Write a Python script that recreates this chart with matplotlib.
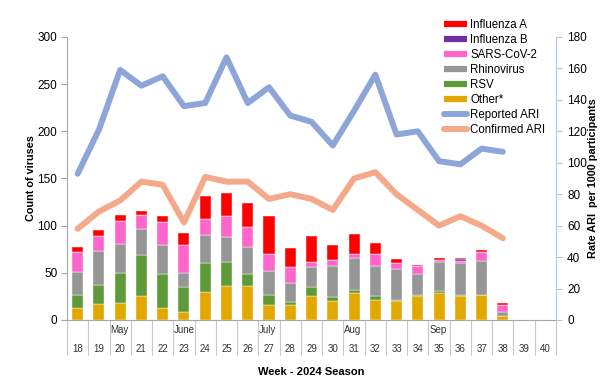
import matplotlib
matplotlib.use("Agg")
import matplotlib.pyplot as plt
import matplotlib.transforms as mtransforms
from matplotlib.lines import Line2D
import numpy as np

plt.rcParams['font.family'] = ['Liberation Sans', 'DejaVu Sans']

weeks = [18, 19, 20, 21, 22, 23, 24, 25, 26, 27, 28, 29, 30, 31, 32, 33, 34, 35, 36, 37, 38, 39, 40]
month_labels = {20: "May", 23: "June", 27: "July", 31: "Aug", 35: "Sep"}

other = [13, 17, 18, 25, 13, 9, 30, 36, 36, 16, 16, 25, 20, 29, 21, 20, 25, 29, 25, 26, 4, 0, 0]
rsv = [14, 20, 32, 44, 36, 26, 30, 25, 13, 11, 3, 10, 4, 3, 4, 1, 2, 2, 1, 0, 0, 0, 0]
rhino = [24, 36, 31, 27, 30, 15, 30, 27, 28, 25, 20, 21, 33, 34, 32, 33, 22, 30, 34, 37, 5, 0, 0]
sars = [21, 16, 24, 15, 25, 30, 17, 22, 22, 18, 17, 5, 7, 4, 13, 6, 8, 3, 3, 9, 7, 0, 0]
flub = [0, 0, 0, 0, 0, 0, 0, 0, 0, 0, 0, 0, 0, 0, 0, 0, 0, 0, 2, 0, 0, 0, 0]
flua = [5, 6, 6, 5, 6, 12, 24, 25, 25, 40, 20, 28, 15, 21, 12, 5, 1, 2, 1, 2, 2, 0, 0]

reported_ari = [93, 121, 159, 149, 155, 136, 138, 167, 138, 148, 130, 126, 111, 133, 156, 118, 120, 101, 99, 109, 107]
confirmed_ari = [58, 69, 76, 88, 86, 62, 91, 88, 88, 77, 80, 77, 70, 90, 94, 80, 70, 60, 66, 60, 52]

c_flua = "#FF0000"
c_flub = "#7030A0"
c_sars = "#FF66CC"
c_rhino = "#969696"
c_rsv = "#5E9A3A"
c_other = "#E2A800"
c_rep = "#8EA5DA"
c_conf = "#F3A98A"

fig = plt.figure(figsize=(6, 3.83), dpi=100)
pos = [0.1117, 0.1645, 0.815, 0.739]
ax = fig.add_axes(pos)
x = np.arange(len(weeks))
w = 0.52

series = [(other, c_other), (rsv, c_rsv), (rhino, c_rhino), (sars, c_sars), (flub, c_flub), (flua, c_flua)]
bottom = np.zeros(len(weeks))
for vals, col in series:
    v = np.array(vals, dtype=float)
    ax.bar(x, v, w, bottom=bottom, color=col, edgecolor='white', linewidth=0.3, zorder=2)
    bottom += v

ax.set_xlim(-0.5, len(weeks) - 0.5)
ax.set_ylim(0, 300)
ax.set_yticks(np.arange(0, 301, 50))
ax.tick_params(axis='y', labelsize=8.5, length=4, color='#A6A6A6', pad=3)
for s in ['top', 'right']:
    ax.spines[s].set_visible(False)
ax.spines['left'].set_color('#A6A6A6')
ax.spines['bottom'].set_color('#A6A6A6')

# category separators extending below axis
ax.set_xticks(np.arange(-0.5, len(weeks), 1))
ax.set_xticklabels([])
ax.tick_params(axis='x', length=25, color='#C8C8C8', width=0.8)

trans = mtransforms.blended_transform_factory(ax.transData, ax.transAxes)
for i, wk in enumerate(weeks):
    ax.text(i, -0.103, str(wk), transform=trans, ha='center', va='center', fontsize=7, color='#333333')
    if wk in month_labels:
        ax.text(i - 0.47, -0.036, month_labels[wk], transform=trans, ha='left', va='center', fontsize=7, color='#333333')

ax.set_ylabel("Count of viruses", fontsize=7.8, fontweight='bold', labelpad=1)
ax.text(0.5, -0.184, "Week - 2024 Season", transform=ax.transAxes, ha='center', va='center', fontsize=8, fontweight='bold')

ax2 = ax.twinx()
xl = np.arange(len(reported_ari))
ax2.plot(xl, reported_ari, color=c_rep, lw=4.3, solid_joinstyle='round', solid_capstyle='round', zorder=3)
ax2.plot(xl, confirmed_ari, color=c_conf, lw=4.3, solid_joinstyle='round', solid_capstyle='round', zorder=3)
ax2.set_ylim(0, 180)
ax2.set_yticks(np.arange(0, 181, 20))
ax2.tick_params(axis='y', labelsize=8.5, length=4, color='#B4C7E7', pad=4)
for s in ['top', 'left', 'bottom']:
    ax2.spines[s].set_visible(False)
ax2.spines['right'].set_color('#B4C7E7')
ax2.set_ylabel("Rate ARI  per 1000 participants", fontsize=7.8, fontweight='bold', labelpad=1)

handles = [
    Line2D([], [], color=c_flua, lw=4.5, solid_capstyle='butt'),
    Line2D([], [], color=c_flub, lw=4.5, solid_capstyle='butt'),
    Line2D([], [], color=c_sars, lw=4.5, solid_capstyle='butt'),
    Line2D([], [], color=c_rhino, lw=4.5, solid_capstyle='butt'),
    Line2D([], [], color=c_rsv, lw=4.5, solid_capstyle='butt'),
    Line2D([], [], color=c_other, lw=4.5, solid_capstyle='butt'),
    Line2D([], [], color=c_rep, lw=4.3, solid_capstyle='round'),
    Line2D([], [], color=c_conf, lw=4.3, solid_capstyle='round'),
]
labels = ["Influenza A", "Influenza B", "SARS-CoV-2", "Rhinovirus", "RSV", "Other*", "Reported ARI", "Confirmed ARI"]
fig.legend(handles, labels, loc='upper left', bbox_to_anchor=(0.733, 0.962), fontsize=8.3,
           frameon=False, handlelength=2.0, handletextpad=0.25, labelspacing=0.26, borderaxespad=0)

fig.savefig("out.png", dpi=100)
